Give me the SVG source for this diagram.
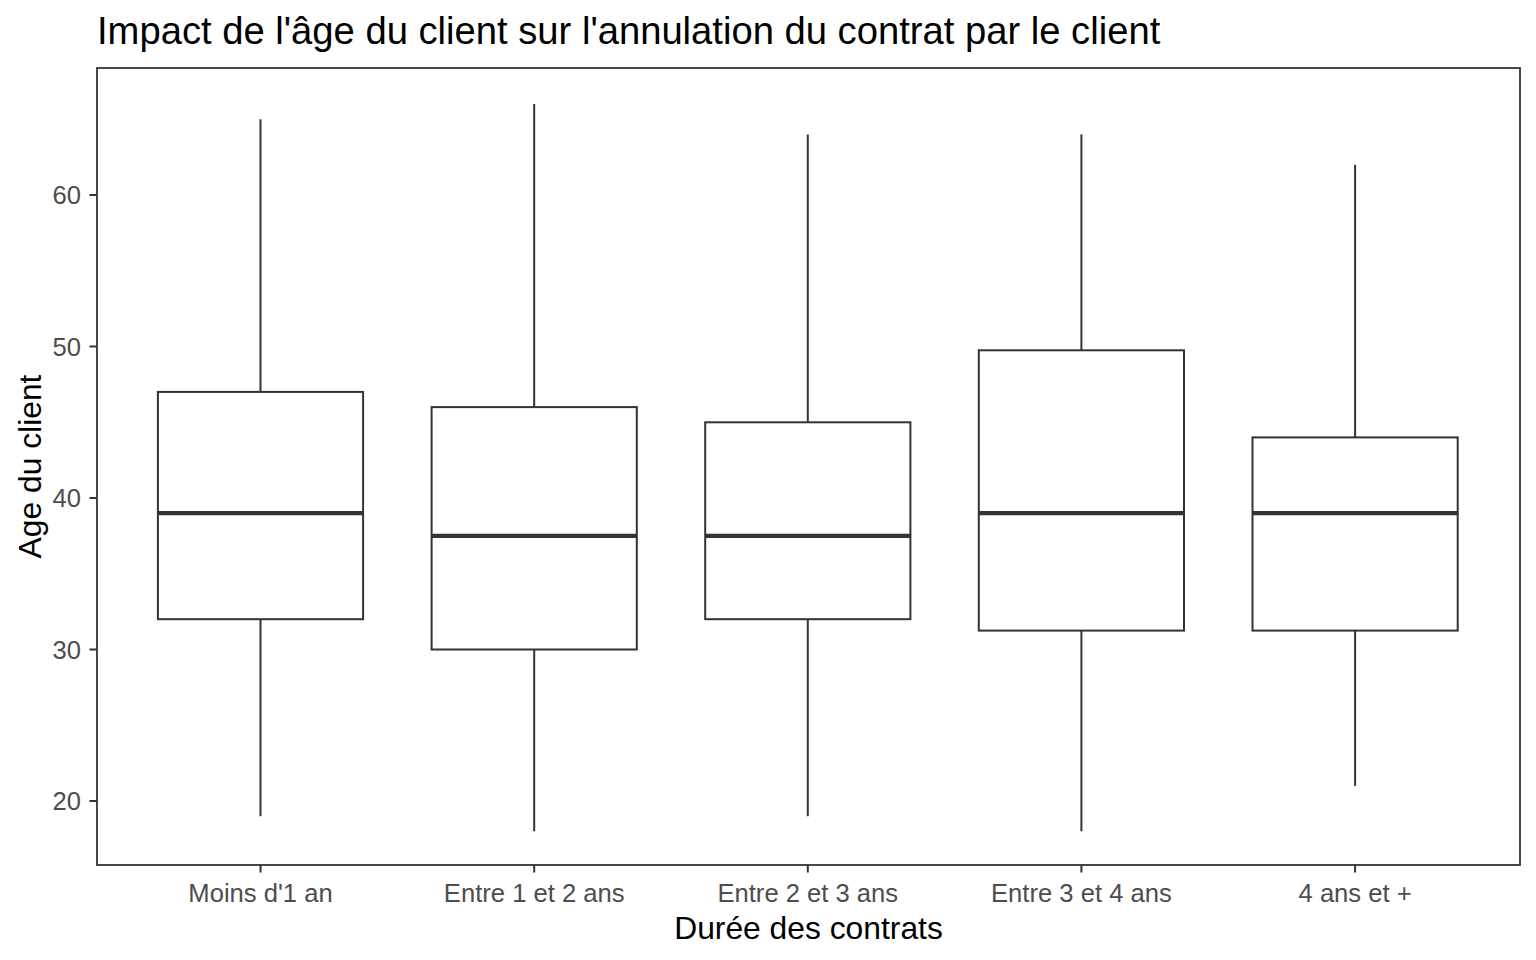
<svg xmlns="http://www.w3.org/2000/svg" width="1536" height="960" viewBox="0 0 1536 960">
<style>
.t{font-family:"Liberation Sans",Arial,sans-serif}
.title{font-size:38.2px;fill:#000}
.axt{font-size:31.8px;fill:#000}
.tick{font-size:25.6px;fill:#4D4D4D}
.box{fill:#fff;stroke:#333;stroke-width:2}
.wh{stroke:#333;stroke-width:2}
.med{stroke:#333;stroke-width:4.2}
.tk{stroke:#333;stroke-width:2}
</style>
<rect width="1536" height="960" fill="#fff"/>
<text class="t title" x="97" y="44">Impact de l'âge du client sur l'annulation du contrat par le client</text>
<g id="connectors">
<line class="wh" x1="260.5" y1="119.3" x2="260.5" y2="391.9"/>
<line class="wh" x1="260.5" y1="619.2" x2="260.5" y2="816.2"/>
<line class="wh" x1="534.2" y1="104.1" x2="534.2" y2="407.1"/>
<line class="wh" x1="534.2" y1="649.5" x2="534.2" y2="831.3"/>
<line class="wh" x1="807.8" y1="134.4" x2="807.8" y2="422.3"/>
<line class="wh" x1="807.8" y1="619.2" x2="807.8" y2="816.2"/>
<line class="wh" x1="1081.4" y1="134.4" x2="1081.4" y2="350.3"/>
<line class="wh" x1="1081.4" y1="630.6" x2="1081.4" y2="831.3"/>
<line class="wh" x1="1355.1" y1="164.7" x2="1355.1" y2="437.4"/>
<line class="wh" x1="1355.1" y1="630.6" x2="1355.1" y2="785.9"/>
</g>
<g id="box1"><rect class="box" x="157.9" y="391.9" width="205.2" height="227.3"/><line class="med" x1="157.9" y1="513.2" x2="363.1" y2="513.2"/></g>
<g id="box2"><rect class="box" x="431.6" y="407.1" width="205.2" height="242.4"/><line class="med" x1="431.6" y1="535.9" x2="636.8" y2="535.9"/></g>
<g id="box3"><rect class="box" x="705.2" y="422.3" width="205.2" height="196.9"/><line class="med" x1="705.2" y1="535.9" x2="910.4" y2="535.9"/></g>
<g id="box4"><rect class="box" x="978.8" y="350.3" width="205.2" height="280.3"/><line class="med" x1="978.8" y1="513.2" x2="1184" y2="513.2"/></g>
<g id="box5"><rect class="box" x="1252.5" y="437.4" width="205.2" height="193.2"/><line class="med" x1="1252.5" y1="513.2" x2="1457.7" y2="513.2"/></g>
<g id="panel">
<rect x="97" y="68" width="1423" height="797" fill="none" stroke="#333" stroke-width="1.8"/>
<line class="tk" x1="89.5" y1="195" x2="97" y2="195"/>
<line class="tk" x1="89.5" y1="346.5" x2="97" y2="346.5"/>
<line class="tk" x1="89.5" y1="498" x2="97" y2="498"/>
<line class="tk" x1="89.5" y1="649.5" x2="97" y2="649.5"/>
<line class="tk" x1="89.5" y1="801" x2="97" y2="801"/>
<line class="tk" x1="260.5" y1="865" x2="260.5" y2="872.5"/>
<line class="tk" x1="534.2" y1="865" x2="534.2" y2="872.5"/>
<line class="tk" x1="807.8" y1="865" x2="807.8" y2="872.5"/>
<line class="tk" x1="1081.4" y1="865" x2="1081.4" y2="872.5"/>
<line class="tk" x1="1355.1" y1="865" x2="1355.1" y2="872.5"/>
</g>
<g id="yticks" class="t tick" text-anchor="end">
<text x="81" y="204">60</text>
<text x="81" y="355.5">50</text>
<text x="81" y="507">40</text>
<text x="81" y="658.5">30</text>
<text x="81" y="810">20</text>
</g>
<g id="xticks" class="t tick" text-anchor="middle">
<text x="260.5" y="902">Moins d'1 an</text>
<text x="534.2" y="902">Entre 1 et 2 ans</text>
<text x="807.8" y="902">Entre 2 et 3 ans</text>
<text x="1081.4" y="902">Entre 3 et 4 ans</text>
<text x="1355.1" y="902">4 ans et +</text>
</g>
<text class="t axt" x="808.5" y="939" text-anchor="middle">Durée des contrats</text>
<text class="t axt" transform="translate(41 466.5) rotate(-90)" text-anchor="middle">Age du client</text>
</svg>
